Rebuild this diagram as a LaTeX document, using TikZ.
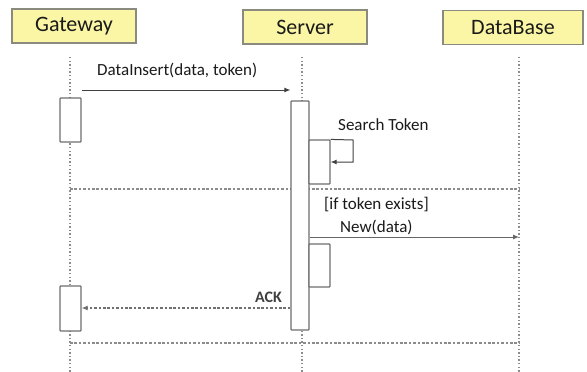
\documentclass[tikz,border=0pt]{standalone}
\usepackage{fontspec}
\setmainfont{Carlito}
\usetikzlibrary{arrows.meta}
\definecolor{hdrfill}{HTML}{FAF6A6}
\definecolor{hdrdraw}{HTML}{8A8A7E}
\definecolor{linegray}{HTML}{8C8C8C}
\definecolor{boxgray}{HTML}{6E6E6E}
\definecolor{txt}{HTML}{1A1A1A}
\definecolor{msggray}{HTML}{404040}
\begin{document}
\begin{tikzpicture}[x=1pt,y=-1pt,
  header/.style={draw=hdrdraw, fill=hdrfill, line width=1.2pt, minimum height=34pt,
                 text=txt, font=\fontsize{22}{25}\selectfont, inner sep=0pt},
  life/.style={linegray, line width=1.4pt, dash pattern=on 1.4pt off 2.2pt},
  sep/.style={linegray, line width=1.3pt, dash pattern=on 2.6pt off 1.8pt},
  act/.style={draw=boxgray, fill=white, line width=1.2pt, inner sep=0pt, rounded corners=0.8pt},
  msg/.style={draw=msggray, line width=1pt, -{Latex[length=6pt,width=5pt]}},
  ackmsg/.style={draw=linegray!80!black, line width=1.3pt, dash pattern=on 2.6pt off 1.8pt,
                 -{Latex[length=6pt,width=5pt]}},
  lbl/.style={text=txt, font=\fontsize{17}{20}\selectfont, inner sep=0pt},
]
\useasboundingbox (0,0) rectangle (587,372);
\fill[white] (0,0) rectangle (587,372);

% headers
\node[header, minimum width=124pt] (gw) at (74,26) {Gateway};
\node[header, minimum width=124pt] (sv) at (305,27) {Server};
\node[header, minimum width=140pt] (db) at (513,27.5) {DataBase};

% lifelines
\coordinate (gwTop) at (70,57);  \coordinate (gwBot) at (70,372);
\coordinate (svTop) at (302,57); \coordinate (svBot) at (302,372);
\coordinate (dbTop) at (519,57); \coordinate (dbBot) at (519,372);
\draw[life] (gwTop) -- (gwBot);
\draw[life] (svTop) -- (svBot);
\draw[life] (dbTop) -- (dbBot);

% separators
\coordinate (s1y) at (0,189);
\coordinate (s2y) at (0,343);
\draw[sep] (gwTop |- s1y) -- (dbTop |- s1y);
\draw[sep] (gwTop |- s2y) -- (dbTop |- s2y);

% activation boxes
\node[act, minimum width=21pt, minimum height=44pt] (ga1) at (70.5,120) {};
\node[act, minimum width=21pt, minimum height=45pt] (ga2) at (70.5,308.5) {};
\node[act, minimum width=18pt, minimum height=229pt] (sa) at (300,215.5) {};
\node[act, minimum width=21pt, minimum height=44pt] (sn1) at (319.5,162) {};
\node[act, minimum width=21pt, minimum height=43pt] (sn2) at (319.5,265.5) {};

% messages
\coordinate (m1y) at (0,90);
\draw[msg] (ga1.east |- m1y) -- (sa.west |- m1y);
\node[lbl, anchor=west] (l1) at (97,70) {DataInsert(data, token)};

\coordinate (loopR) at (353,140);
\draw[msg] (sn1.north east) -- (loopR) |- (sn1.east);
\node[lbl, anchor=west] (l2) at (338,125) {Search Token};

\node[lbl, anchor=west] (l3) at (324,205) {[if token exists]};
\node[lbl, anchor=west] (l4) at (340,227) {New(data)};
\coordinate (m2y) at (0,237);
\draw[msg, draw=msggray!80] (sa.east |- m2y) -- (dbTop |- m2y);

\coordinate (m3y) at (0,308);
\draw[ackmsg] (sa.west |- m3y) -- (ga2.east |- m3y);
\node[lbl, anchor=east, font=\bfseries\fontsize{16}{19}\selectfont, text=msggray] (l5) at (282,297) {ACK};
\end{tikzpicture}
\end{document}
